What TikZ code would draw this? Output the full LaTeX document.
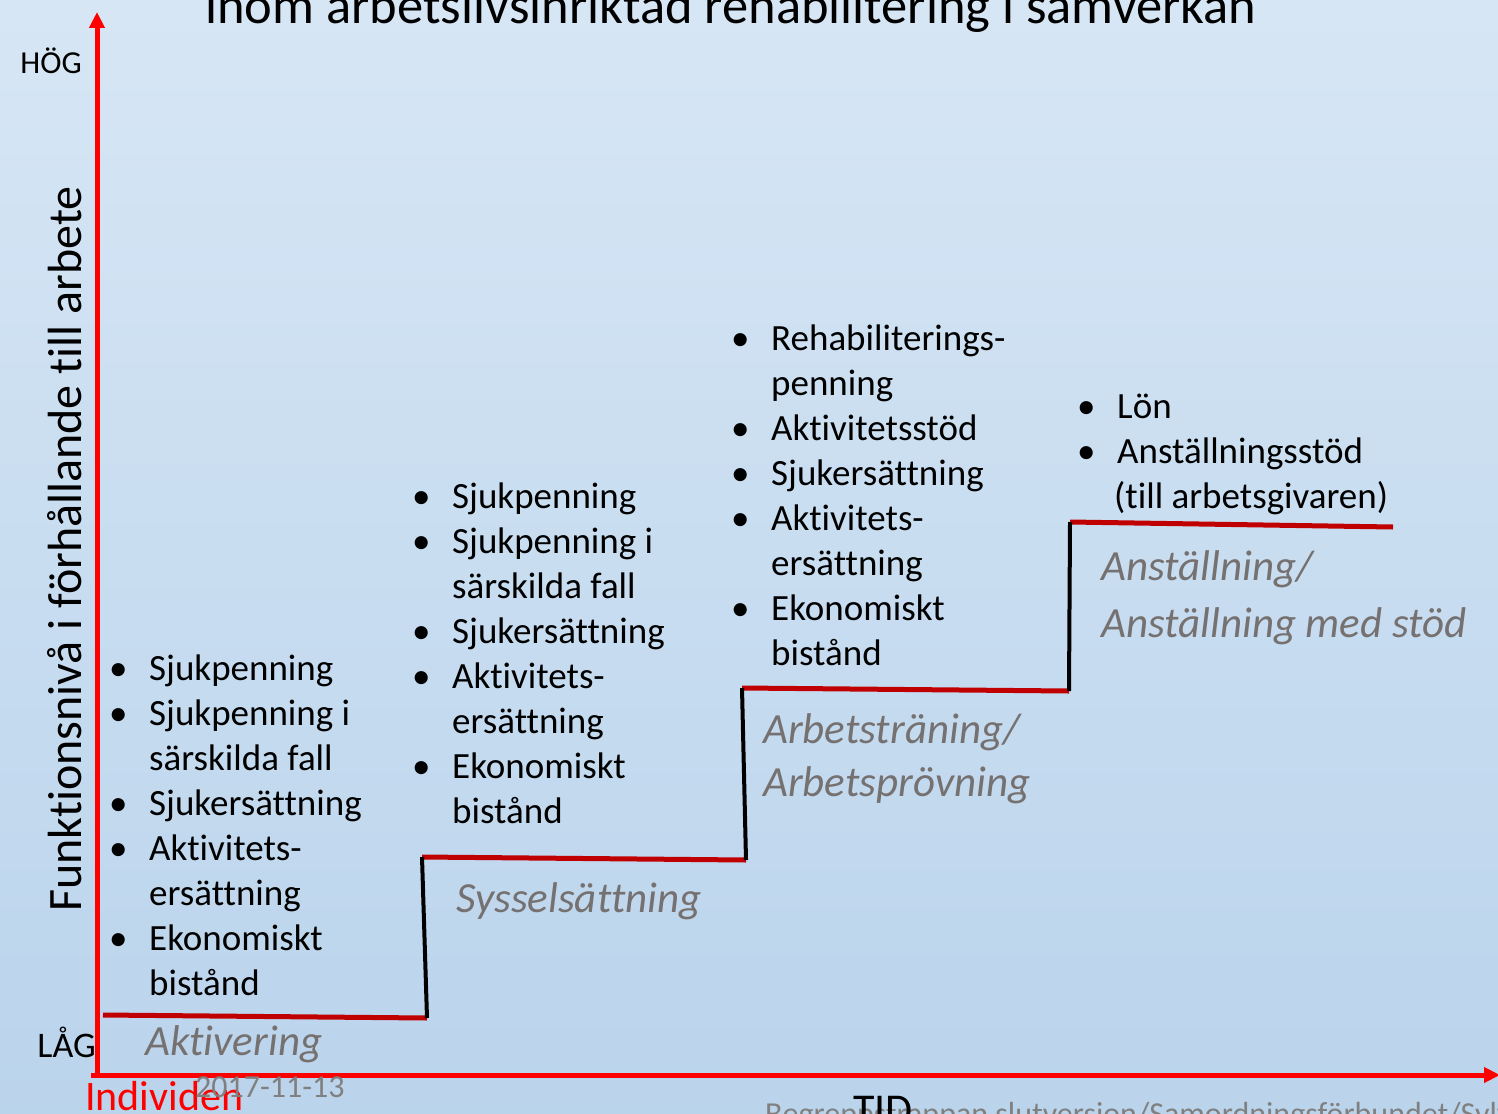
\documentclass[tikz,border=0pt]{standalone}
\usepackage{fontspec}
\setmainfont{Carlito}[Ligatures=NoCommon]
\usetikzlibrary{arrows.meta}

\definecolor{axelrod}{RGB}{255,0,0}
\definecolor{trapprod}{RGB}{192,0,0}
\definecolor{stegtext}{RGB}{118,113,113}
\definecolor{datumgra}{RGB}{128,128,128}
\pgfdeclareverticalshading{bakgrund}{100bp}{color(0bp)=(rgb,255:red,194;green,217;blue,239);
  color(14bp)=(rgb,255:red,180;green,208;blue,234);
  color(100bp)=(rgb,255:red,229;green,239;blue,249)}

\newcommand{\pkt}{\makebox[40pt][l]{\textbullet}}
\newcommand{\rader}[1]{\begin{tabular}[t]{@{}l@{}}#1\end{tabular}}

\begin{document}
\begin{tikzpicture}[x=1pt, y=-1pt,
    axel/.style={line width=5pt, draw=axelrod, -{Triangle[length=16pt, width=15pt]}},
    trappa/.style={line width=5pt, draw=trapprod},
    kant/.style={line width=4pt, draw=black},
    punkt/.style={anchor=base west, inner sep=0pt, font={\fontsize{37}{45}\selectfont}},
    steg/.style={anchor=base west, inner sep=0pt, text=stegtext, font={\fontsize{43}{53}\selectfont\itshape}},
    etikett/.style={inner sep=0pt, font={\fontsize{32}{38}\selectfont}}
]
    \useasboundingbox (0,0) rectangle (1498,1113);
    \clip (0,0) rectangle (1498,1113);
    \shade[shading=bakgrund] (0,0) rectangle (1498,1113);

    % axlar
    \coordinate (origo) at (97,1078);
    \coordinate (ytopp) at (97,12);
    \coordinate (xstart) at (91,1075);
    \coordinate (xslut) at (1500,1075);

    % trappsteg
    \coordinate (s1a) at (103,1015);
    \coordinate (s1b) at (427,1018);
    \coordinate (s2a) at (422,857);
    \coordinate (s2b) at (746,860);
    \coordinate (s3a) at (742,688);
    \coordinate (s3b) at (1069,691);
    \coordinate (s4a) at (1070,522);
    \coordinate (s4b) at (1393,527);

    \node[anchor=base, inner sep=0pt, font={\fontsize{52.5}{60}\selectfont}] (titel) at (731,24)
        {inom arbetslivsinriktad rehabilitering i samverkan};

    \node[etikett, anchor=base east] (hog) at (82,74) {HÖG};
    \node[etikett, anchor=base east, font={\fontsize{36}{40}\selectfont}] (lag) at (96,1057) {LÅG};
    \node[anchor=base, rotate=90, inner sep=0pt, font={\fontsize{48}{55}\selectfont}] (funktion) at (81,549)
        {Funktionsnivå i förhållande till arbete};

    % listor
    \node[punkt] (lista1) at (109,680) {\rader{\pkt Sjukpenning\\ \pkt Sjukpenning i\\ \hspace*{40pt}särskilda fall\\
        \pkt Sjukersättning\\ \pkt Aktivitets-\\ \hspace*{40pt}ersättning\\ \pkt Ekonomiskt\\ \hspace*{40pt}bistånd}};
    \node[punkt] (lista2) at (412,508) {\rader{\pkt Sjukpenning\\ \pkt Sjukpenning i\\ \hspace*{40pt}särskilda fall\\
        \pkt Sjukersättning\\ \pkt Aktivitets-\\ \hspace*{40pt}ersättning\\ \pkt Ekonomiskt\\ \hspace*{40pt}bistånd}};
    \node[punkt] (lista3) at (731,350) {\rader{\pkt Rehabiliterings-\\ \hspace*{40pt}penning\\ \pkt Aktivitetsstöd\\
        \pkt Sjukersättning\\ \pkt Aktivitets-\\ \hspace*{40pt}ersättning\\ \pkt Ekonomiskt\\ \hspace*{40pt}bistånd}};
    \node[punkt] (lista4) at (1077,418) {\rader{\pkt Lön\\ \pkt Anställningsstöd\\ \hspace*{37pt}(till arbetsgivaren)}};

    % stegnamn
    \node[steg] (aktivering) at (145,1055) {Aktivering};
    \node[steg] (syssel) at (456,912) {Sysselsättning};
    \node[steg] (traning) at (763,743) {\rader{Arbetsträning/\\ Arbetsprövning}};
    \node[steg, font={\fontsize{43}{57}\selectfont\itshape}] (anstallning) at (1101,580)
        {\rader{Anställning/\\ Anställning med stöd}};

    \draw[trappa] (s1a) -- (s1b);
    \draw[trappa] (s2a) -- (s2b);
    \draw[trappa] (s3a) -- (s3b);
    \draw[trappa] (s4a) -- (s4b);
    \draw[kant] (s2a) -- (s1b);
    \draw[kant] (s3a) -- (s2b);
    \draw[kant] (s4a) -- (s3b);

    \draw[axel] (origo) -- (ytopp);
    \draw[axel] (xstart) -- (xslut);

    % nederkant
    \node[etikett, anchor=base west, text=datumgra] (fot) at (765,1124)
        {Begreppstrappan slutversion/Samordningsförbundet/Sylvia};
    \node[anchor=base west, inner sep=0pt, font={\fontsize{44}{50}\selectfont}] (tid) at (853,1124) {TID};
    \node[anchor=base west, inner sep=0pt, text=axelrod, font={\fontsize{42}{50}\selectfont}] (individen) at (85,1110) {Individen};
    \node[etikett, anchor=base west, text=datumgra] (datum) at (195,1097) {2017-11-13};
\end{tikzpicture}
\end{document}
